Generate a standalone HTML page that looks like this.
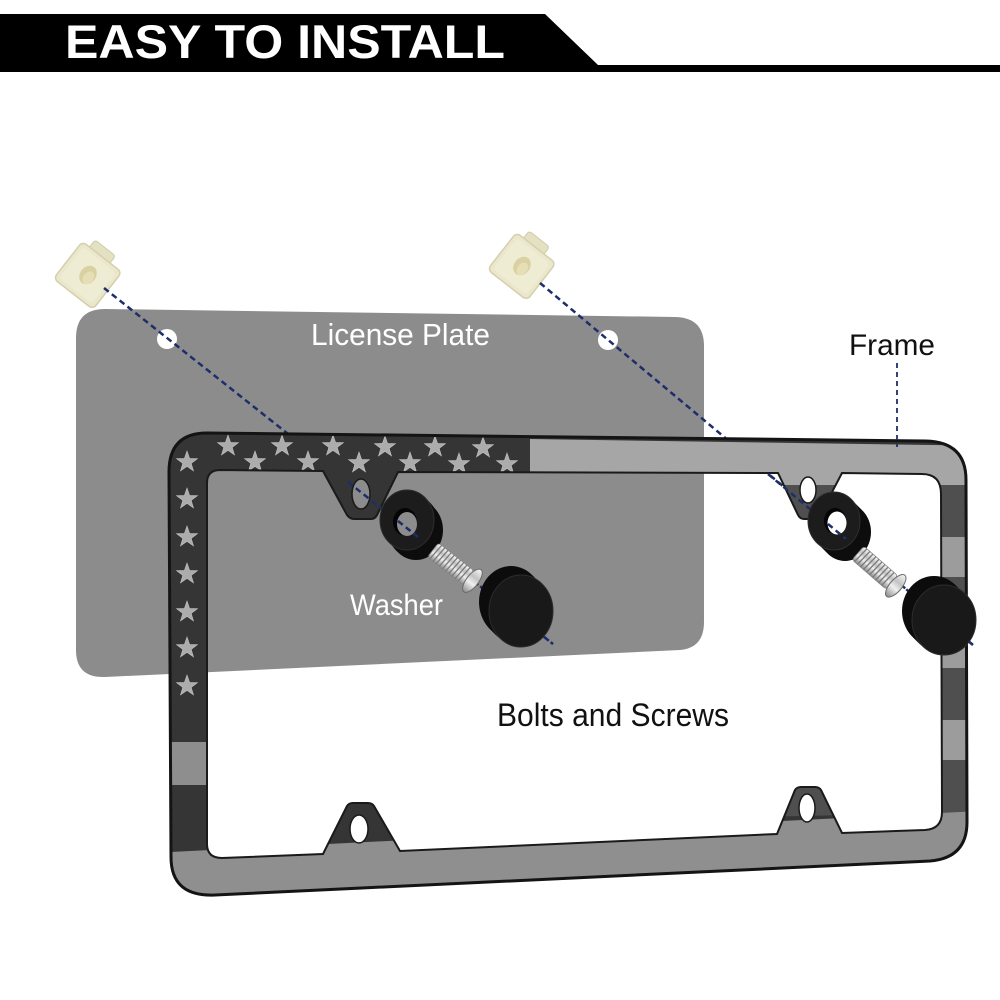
<!DOCTYPE html>
<html>
<head>
<meta charset="utf-8">
<style>
  html,body{margin:0;padding:0;background:#fff;}
  body{width:1000px;height:1000px;overflow:hidden;}
  svg{display:block;}
  .lbl{font-family:"Liberation Sans","DejaVu Sans",sans-serif;}
</style>
</head>
<body>
<svg width="1000" height="1000" viewBox="0 0 1000 1000" xmlns="http://www.w3.org/2000/svg">
  <defs>
    <polygon id="st" points="0,-11 2.59,-3.56 10.46,-3.4 4.18,1.36 6.47,8.9 0,4.4 -6.47,8.9 -4.18,1.36 -10.46,-3.4 -2.59,-3.56" fill="#acacac" stroke="#c4c4c4" stroke-width="0.6"/>
    <linearGradient id="silver" x1="0" y1="0" x2="0" y2="1">
      <stop offset="0" stop-color="#f6f6f6"/>
      <stop offset="0.35" stop-color="#c2c2c2"/>
      <stop offset="0.6" stop-color="#f0f0f0"/>
      <stop offset="1" stop-color="#8a8a8a"/>
    </linearGradient>
    <clipPath id="fclip">
      <path clip-rule="evenodd" d="M207,433 L926,441 Q966,442 966,480 L967,822 Q967,858 930,861 L215,895 Q171,897 171,857 L169,472 Q169,433 207,433 Z
      M220,470 L323,471 L347,515 Q350,519 354,519 L371,519 Q375,519 377,515 L398,472 L778,473 L798,515 Q800,519 804,519 L814,519 Q818,519 820,515 L842,473 L922,474 Q941,474 941,494 L942,812 Q942,829 925,830 L842,833 L821,790 Q819,787 815,787 L801,787 Q797,787 795,790 L777,834 L400,851 L374,806 Q372,803 368,803 L353,803 Q349,803 347,806 L323,854 L222,858 Q207,858 207,844 L207,483 Q207,470 220,470 Z"/>
    </clipPath>
  </defs>

  <!-- Header -->
  <polygon points="0,14 545,14 598,65 1000,65 1000,72 0,72" fill="#000"/>
  <text x="65" y="58" fill="#fff" font-family="'Liberation Sans Narrow','Liberation Sans',sans-serif" font-weight="bold" font-size="47" textLength="440" lengthAdjust="spacingAndGlyphs">EASY TO INSTALL</text>

  <!-- License plate -->
  <path d="M105,309 L676,317 Q704,318 704,346 L704,622 Q704,648 680,650 L105,677 Q76,678 76,650 L76,338 Q76,309 105,309 Z" fill="#8c8c8c"/>
  <circle cx="167" cy="339" r="10" fill="#fff"/>
  <circle cx="608" cy="340" r="10" fill="#fff"/>
  <text class="lbl" x="311" y="345" fill="#fff" font-size="31" textLength="179" lengthAdjust="spacingAndGlyphs">License Plate</text>

  <!-- Clips -->
  <g transform="translate(88,275) rotate(38)">
    <rect x="-16" y="-32" width="26" height="13" rx="3" fill="#e4e0c2" stroke="#d0cba8" stroke-width="1"/>
    <rect x="-25" y="-23" width="50" height="47" rx="5" fill="#ebe7cc" stroke="#d4cfac" stroke-width="1.5"/>
    <rect x="-21" y="-19" width="42" height="39" rx="4" fill="#efecd4"/>
    <ellipse cx="0" cy="0" rx="8" ry="10" fill="#d9d1a2"/>
    <ellipse cx="2" cy="2" rx="5" ry="7" fill="#e6dfb6"/>
  </g>
  <g transform="translate(522,266) rotate(38)">
    <rect x="-16" y="-32" width="26" height="13" rx="3" fill="#e4e0c2" stroke="#d0cba8" stroke-width="1"/>
    <rect x="-25" y="-23" width="50" height="47" rx="5" fill="#ebe7cc" stroke="#d4cfac" stroke-width="1.5"/>
    <rect x="-21" y="-19" width="42" height="39" rx="4" fill="#efecd4"/>
    <ellipse cx="0" cy="0" rx="8" ry="10" fill="#d9d1a2"/>
    <ellipse cx="2" cy="2" rx="5" ry="7" fill="#e6dfb6"/>
  </g>

  <!-- dashed lines under the frame -->
  <g stroke="#1e2d6b" stroke-width="2.5" stroke-dasharray="6 4" fill="none">
    <line x1="104" y1="288" x2="553" y2="644"/>
    <line x1="540" y1="283" x2="973" y2="645"/>
  </g>

  <!-- Frame -->
  <g clip-path="url(#fclip)">
    <rect x="150" y="420" width="850" height="500" fill="#353535"/>
    <polygon points="530,439 1000,446 1000,485 530,485" fill="#a6a6a6"/>
    <polygon points="700,485 1000,485 1000,537 700,537" fill="#4f4f4f"/>
    <rect x="900" y="537" width="100" height="40" fill="#9c9c9c"/>
    <rect x="900" y="577" width="100" height="52" fill="#4f4f4f"/>
    <rect x="900" y="629" width="100" height="39" fill="#9c9c9c"/>
    <rect x="900" y="668" width="100" height="52" fill="#4f4f4f"/>
    <rect x="900" y="720" width="100" height="40" fill="#9c9c9c"/>
    <polygon points="700,760 1000,760 1000,812 700,818" fill="#4f4f4f"/>
    <rect x="150" y="742" width="60" height="43" fill="#8e8e8e"/>
    <polygon points="150,853 1000,810 1000,920 150,920" fill="#8f8f8f"/>
    <use href="#st" x="187" y="462"/>
    <use href="#st" x="187" y="499"/>
    <use href="#st" x="187" y="537"/>
    <use href="#st" x="187" y="574"/>
    <use href="#st" x="187" y="612"/>
    <use href="#st" x="187" y="648"/>
    <use href="#st" x="187" y="686"/>
    <use href="#st" x="228" y="446"/>
    <use href="#st" x="282" y="446"/>
    <use href="#st" x="333" y="446"/>
    <use href="#st" x="385" y="447"/>
    <use href="#st" x="435" y="447"/>
    <use href="#st" x="483" y="448"/>
    <use href="#st" x="255" y="462"/>
    <use href="#st" x="308" y="462"/>
    <use href="#st" x="359" y="463"/>
    <use href="#st" x="410" y="463"/>
    <use href="#st" x="459" y="464"/>
    <use href="#st" x="507" y="464"/>
  </g>
  <path fill="none" stroke="#141414" stroke-width="3" d="M207,433 L926,441 Q966,442 966,480 L967,822 Q967,858 930,861 L215,895 Q171,897 171,857 L169,472 Q169,433 207,433 Z"/>
  <path fill="none" stroke="#1a1a1a" stroke-width="2" d="M220,470 L323,471 L347,515 Q350,519 354,519 L371,519 Q375,519 377,515 L398,472 L778,473 L798,515 Q800,519 804,519 L814,519 Q818,519 820,515 L842,473 L922,474 Q941,474 941,494 L942,812 Q942,829 925,830 L842,833 L821,790 Q819,787 815,787 L801,787 Q797,787 795,790 L777,834 L400,851 L374,806 Q372,803 368,803 L353,803 Q349,803 347,806 L323,854 L222,858 Q207,858 207,844 L207,483 Q207,470 220,470 Z"/>
  <ellipse cx="361" cy="494" rx="9" ry="15" fill="#8c8c8c" stroke="#1a1a1a" stroke-width="1.5"/>
  <ellipse cx="808" cy="490" rx="8" ry="13" fill="#fff" stroke="#1a1a1a" stroke-width="1.5"/>
  <ellipse cx="359" cy="829" rx="9" ry="14" fill="#fff" stroke="#1a1a1a" stroke-width="1.5"/>
  <ellipse cx="807" cy="808" rx="8" ry="14" fill="#fff" stroke="#1a1a1a" stroke-width="1.5"/>

  <g stroke="#1e2d6b" stroke-width="2.5" stroke-dasharray="6 4" fill="none">
    <line x1="348" y1="482" x2="553" y2="644"/>
    <line x1="768" y1="474" x2="973" y2="645"/>
  </g>

  <!-- Left washer -->
  <g fill="#0d0d0d">
    <ellipse cx="416" cy="530" rx="27" ry="30"/>
    <ellipse cx="414" cy="528" rx="27" ry="30"/>
    <ellipse cx="412" cy="525" rx="27" ry="30"/>
    <ellipse cx="410" cy="523" rx="27" ry="30"/>
  </g>
  <ellipse cx="407" cy="520" rx="27" ry="30" fill="#1c1c1c" stroke="#2e2e2e" stroke-width="1"/>
  <ellipse cx="405" cy="522" rx="12" ry="14" fill="#050505"/>
  <ellipse cx="407" cy="524" rx="10" ry="12" fill="#8c8c8c"/>
  <line x1="398" y1="521" x2="418" y2="537" stroke="#1e2d6b" stroke-width="2.5" stroke-dasharray="6 4"/>

  <!-- Left screw -->
  <g transform="translate(433,550) rotate(38)">
    <rect x="0" y="-9" width="45" height="18" rx="3" fill="url(#silver)" stroke="#8a8a8a" stroke-width="0.8"/>
    <g stroke="#7a7a7a" stroke-width="1.3">
      <line x1="4" y1="-9" x2="3" y2="9"/><line x1="8" y1="-9" x2="7" y2="9"/><line x1="12" y1="-9" x2="11" y2="9"/>
      <line x1="16" y1="-9" x2="15" y2="9"/><line x1="20" y1="-9" x2="19" y2="9"/><line x1="24" y1="-9" x2="23" y2="9"/>
      <line x1="28" y1="-9" x2="27" y2="9"/><line x1="32" y1="-9" x2="31" y2="9"/><line x1="36" y1="-9" x2="35" y2="9"/>
      <line x1="40" y1="-9" x2="39" y2="9"/>
    </g>
    <ellipse cx="50" cy="0" rx="6" ry="14" fill="url(#silver)" stroke="#6a6a6a" stroke-width="1"/>
  </g>

  <!-- Left cap -->
  <g fill="#0c0c0c">
    <ellipse cx="511" cy="602" rx="32" ry="36"/>
    <ellipse cx="514" cy="605" rx="32" ry="36"/>
    <ellipse cx="517" cy="608" rx="32" ry="36"/>
  </g>
  <ellipse cx="521" cy="611" rx="32" ry="36" fill="#191919" stroke="#2c2c2c" stroke-width="1"/>

  <!-- Right washer -->
  <g fill="#0d0d0d">
    <ellipse cx="845" cy="532" rx="26" ry="29"/>
    <ellipse cx="842" cy="529" rx="26" ry="29"/>
    <ellipse cx="839" cy="526" rx="26" ry="29"/>
    <ellipse cx="836" cy="523" rx="26" ry="29"/>
  </g>
  <ellipse cx="834" cy="521" rx="26" ry="29" fill="#1c1c1c" stroke="#2e2e2e" stroke-width="1"/>
  <ellipse cx="835" cy="521" rx="11" ry="13" fill="#050505"/>
  <ellipse cx="837" cy="523" rx="9.5" ry="11.5" fill="#fff"/>
  <line x1="828" y1="524" x2="846" y2="539" stroke="#1e2d6b" stroke-width="2.5" stroke-dasharray="6 4"/>

  <!-- Right screw -->
  <g transform="translate(858,553) rotate(41)">
    <rect x="0" y="-9" width="45" height="18" rx="3" fill="url(#silver)" stroke="#8a8a8a" stroke-width="0.8"/>
    <g stroke="#7a7a7a" stroke-width="1.3">
      <line x1="4" y1="-9" x2="3" y2="9"/><line x1="8" y1="-9" x2="7" y2="9"/><line x1="12" y1="-9" x2="11" y2="9"/>
      <line x1="16" y1="-9" x2="15" y2="9"/><line x1="20" y1="-9" x2="19" y2="9"/><line x1="24" y1="-9" x2="23" y2="9"/>
      <line x1="28" y1="-9" x2="27" y2="9"/><line x1="32" y1="-9" x2="31" y2="9"/><line x1="36" y1="-9" x2="35" y2="9"/>
      <line x1="40" y1="-9" x2="39" y2="9"/>
    </g>
    <ellipse cx="50" cy="0" rx="6" ry="14" fill="url(#silver)" stroke="#6a6a6a" stroke-width="1"/>
  </g>

  <!-- Right cap -->
  <g fill="#0c0c0c">
    <ellipse cx="934" cy="611" rx="32" ry="35"/>
    <ellipse cx="937" cy="614" rx="32" ry="35"/>
    <ellipse cx="940" cy="617" rx="32" ry="35"/>
  </g>
  <ellipse cx="944" cy="620" rx="32" ry="35" fill="#191919" stroke="#2c2c2c" stroke-width="1"/>

  <line x1="897" y1="363" x2="897" y2="447" stroke="#1e2d6b" stroke-width="1.8" stroke-dasharray="5 4"/>

  <text class="lbl" x="849" y="355" fill="#111" font-size="30" textLength="86" lengthAdjust="spacingAndGlyphs">Frame</text>
  <text class="lbl" x="350" y="615" fill="#fff" font-size="30" textLength="93" lengthAdjust="spacingAndGlyphs">Washer</text>
  <text class="lbl" x="497" y="726" fill="#111" font-size="32" textLength="232" lengthAdjust="spacingAndGlyphs">Bolts and Screws</text>
</svg>
</body>
</html>
